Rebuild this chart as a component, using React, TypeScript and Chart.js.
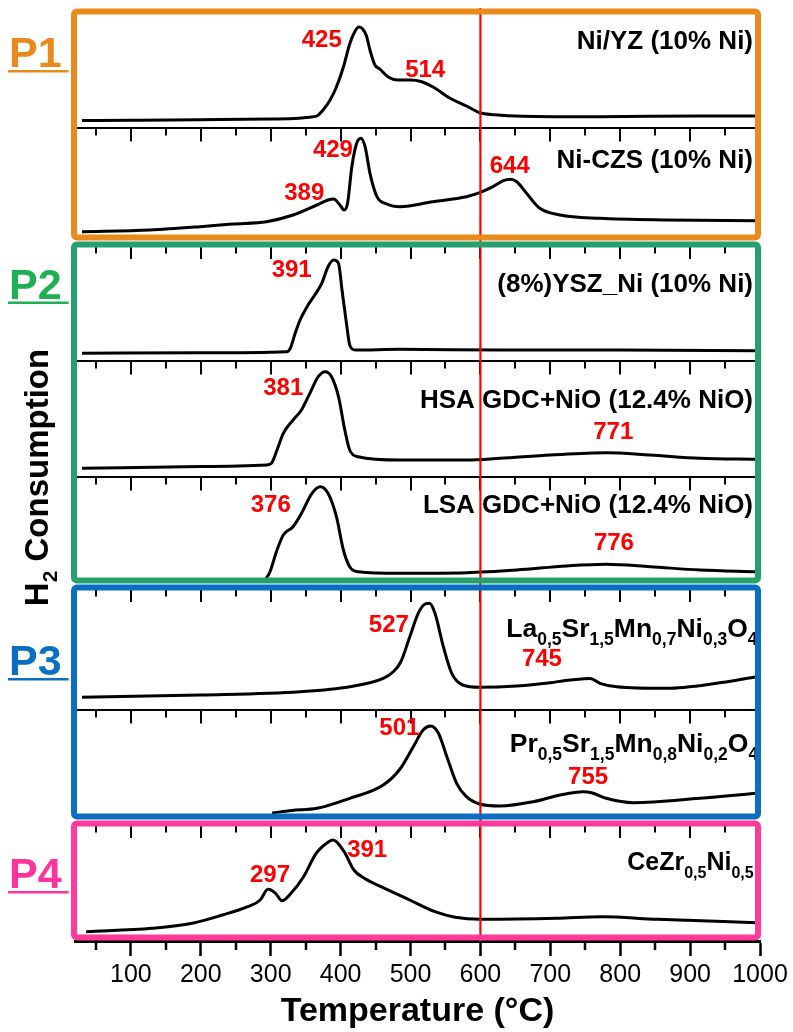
import React, { useEffect, useRef } from 'react';
import { Chart, registerables } from 'chart.js';

Chart.register(...registerables);

type Pt = [number, number];
type Part = [string, boolean];

const FONT = "'Liberation Sans', Arial, Helvetica, sans-serif";

// ---------- axis ----------
const X_MIN = 20;
const X_MAX = 1000;
const X_TICKS = [100, 200, 300, 400, 500, 600, 700, 800, 900, 1000];
const X_MINOR_TICKS = [50, 150, 250, 350, 450, 550, 650, 750, 850, 950];
const REF_TEMPERATURE = 600;

// ---------- series: [temperature °C, H2 signal (a.u.)] ----------
const NI_YZ: Pt[] = [
  [30, 7.5], [100, 7.8], [200, 8.3], [300, 9], [340, 9.8], [355, 10.8], [366, 12], [376, 19],
  [385, 28], [394, 41], [404, 61], [413, 84], [420, 96], [426, 101], [431, 99.5], [437, 92],
  [442, 78], [449, 63], [456, 59], [468, 51], [482, 48], [500, 48], [515, 46.5], [533, 40.7],
  [556, 30], [580, 22], [599, 15.3], [620, 13.3], [660, 11.8], [771, 11.3], [914, 12], [995, 12],
];
const NI_CZS: Pt[] = [
  [30, 9.3], [127, 11], [199, 14.3], [246, 17], [294, 19.3], [332, 26], [366, 36], [382, 41],
  [390, 42], [399, 36], [405, 31], [410, 38], [416, 74], [423, 97.7], [429, 102.7], [435, 94.3],
  [442, 67.7], [452, 44.3], [466, 37], [485, 34.3], [532, 39.3], [580, 44.3], [599, 48.3],
  [618, 54.3], [633, 60.3], [643, 61.7], [652, 59.3], [666, 47.7], [685, 32.7], [714, 26],
  [771, 22.7], [866, 21], [995, 20.3],
];
const YSZ_NI: Pt[] = [
  [30, 7.7], [200, 8.2], [323, 9.3], [328, 12.7], [335, 27.7], [342, 41], [352, 54.3], [363, 66],
  [373, 77.7], [382, 94.3], [390, 101], [397, 97.7], [402, 71], [409, 34.3], [413, 16], [421, 11],
  [485, 11.7], [628, 11], [800, 11], [995, 10.3],
];
const HSA_GDC: Pt[] = [
  [30, 8.7], [200, 10.5], [294, 12], [301, 13.7], [309, 27], [318, 43.7], [332, 57], [344, 67],
  [356, 83.7], [368, 100.3], [378, 105.3], [387, 100.3], [397, 80.3], [406, 47], [413, 27],
  [425, 20.3], [485, 17], [580, 17], [628, 18.7], [700, 22], [780, 24.3], [843, 22], [914, 18.7],
  [995, 17.7],
];
const LSA_GDC: Pt[] = [
  [293, 5], [299, 12.3], [309, 34], [318, 49], [332, 57.3], [344, 70.7], [359, 90.7], [371, 97.3],
  [382, 90.7], [394, 67.3], [404, 34], [413, 17.3], [425, 12.3], [485, 10.7], [580, 11.3],
  [652, 14], [723, 18], [780, 19.7], [843, 17.3], [914, 14], [995, 12.3],
];
const LSMN: Pt[] = [
  [30, 12.7], [199, 15], [342, 18.3], [413, 23.3], [461, 31.7], [475, 38], [486, 48], [499, 73.3],
  [511, 96.7], [521, 106], [527, 106.7], [535, 96.7], [547, 63.3], [559, 36.7], [575, 25],
  [599, 22.7], [652, 24], [700, 27.3], [722, 29.5], [745, 31], [757, 31.5], [771, 26.7],
  [795, 23.3], [866, 21.7], [938, 26.7], [995, 33.3],
];
const PSMN: Pt[] = [
  [302, 7], [330, 9.5], [366, 11.7], [413, 21.7], [461, 35], [485, 51], [504, 73.3], [518, 90],
  [529, 94], [540, 86.7], [552, 63.3], [566, 36.7], [580, 23.3], [599, 16], [628, 14], [676, 18.3],
  [714, 25], [747, 28.3], [759, 27.3], [780, 21.7], [819, 17.3], [914, 21.7], [995, 26.7],
];
const CEZR_NI: Pt[] = [
  [36, 9.3], [130, 12.7], [188, 17.7], [231, 26], [267, 34.3], [285, 41], [296, 51.7], [307, 47.7],
  [316, 40.3], [329, 47.7], [347, 64.3], [365, 87.7], [383, 99.3], [389, 101], [405, 89.3],
  [419, 71], [434, 62.7], [463, 52.7], [499, 41], [535, 29.3], [564, 23.7], [600, 21.7],
  [709, 22.7], [774, 24.3], [853, 21.7], [995, 18.3],
];

const SERIES: Pt[][] = [NI_YZ, NI_CZS, YSZ_NI, HSA_GDC, LSA_GDC, LSMN, PSMN, CEZR_NI];

// full-scale (a.u.) of each stacked panel, top to bottom
const PANEL_RANGES = [120, 113, 120, 116, 107, 126, 110, 121];
// which group box each panel belongs to
const PANEL_GROUPS = [0, 0, 1, 1, 1, 2, 2, 3];
const GROUP_NAMES = ['P1', 'P2', 'P3', 'P4'];
const GROUP_BORDER_COLORS = ['#EB8A1C', '#25A06E', '#0A6FC2', '#FF3A9A'];
const GROUP_TEXT_COLORS = ['#EB8A1C', '#1FB055', '#0A6FC2', '#FF3399'];
const GROUP_LABEL_POS = [
  { panel: 0, v: 61 },
  { panel: 2, v: 62.5 },
  { panel: 5, v: 35 },
  { panel: 7, v: 53 },
];

const SAMPLE_LABELS: { panel: number; parts: Part[]; t: number; v: number; align: 'left' | 'right'; size: number; sub: number }[] = [
  { panel: 0, parts: [['Ni/YZ (10% Ni)', false]], t: 990, v: 78.7, align: 'right', size: 26, sub: 17 },
  { panel: 1, parts: [['Ni-CZS (10% Ni)', false]], t: 990, v: 72.7, align: 'right', size: 26, sub: 17 },
  { panel: 2, parts: [['(8%)YSZ_Ni (10% Ni)', false]], t: 990, v: 69.3, align: 'right', size: 26, sub: 17 },
  { panel: 3, parts: [['HSA GDC+NiO (12.4% NiO)', false]], t: 990, v: 68.7, align: 'right', size: 26, sub: 17 },
  { panel: 4, parts: [['LSA GDC+NiO (12.4% NiO)', false]], t: 990, v: 70.7, align: 'right', size: 26, sub: 17 },
  {
    panel: 5,
    parts: [['La', false], ['0,5', true], ['Sr', false], ['1,5', true], ['Mn', false], ['0,7', true], ['Ni', false], ['0,3', true], ['O', false], ['4', true]],
    t: 637, v: 73.3, align: 'left', size: 26.5, sub: 17.5,
  },
  {
    panel: 6,
    parts: [['Pr', false], ['0,5', true], ['Sr', false], ['1,5', true], ['Mn', false], ['0,8', true], ['Ni', false], ['0,2', true], ['O', false], ['4', true]],
    t: 642, v: 68, align: 'left', size: 26.5, sub: 17.5,
  },
  {
    panel: 7,
    parts: [['CeZr', false], ['0,5', true], ['Ni', false], ['0,5', true]],
    t: 991, v: 71, align: 'right', size: 25, sub: 16,
  },
];

const PEAK_LABELS: { panel: number; text: string; t: number; v: number }[] = [
  { panel: 0, text: '425', t: 373, v: 88 },
  { panel: 0, text: '514', t: 521, v: 58 },
  { panel: 1, text: '429', t: 389, v: 91 },
  { panel: 1, text: '389', t: 348, v: 48 },
  { panel: 1, text: '644', t: 642, v: 75 },
  { panel: 2, text: '391', t: 330, v: 91 },
  { panel: 3, text: '381', t: 318, v: 89 },
  { panel: 3, text: '771', t: 790, v: 45 },
  { panel: 4, text: '376', t: 300, v: 79 },
  { panel: 4, text: '776', t: 791, v: 41 },
  { panel: 5, text: '527', t: 469, v: 85 },
  { panel: 5, text: '745', t: 688, v: 51 },
  { panel: 6, text: '501', t: 484, v: 92 },
  { panel: 6, text: '755', t: 754, v: 43 },
  { panel: 7, text: '297', t: 299, v: 66 },
  { panel: 7, text: '391', t: 438, v: 91 },
];

const Y_TITLE: Part[] = [['H', false], ['2', true], [' Consumption', false]];

function drawRich(ctx: CanvasRenderingContext2D, parts: Part[], x: number, y: number, align: string, size: number, sub: number, subDy: number) {
  const mainFont = `bold ${size}px ${FONT}`;
  const subFont = `bold ${sub}px ${FONT}`;
  let total = 0;
  const widths = parts.map(([t, s]) => {
    ctx.font = s ? subFont : mainFont;
    const w = ctx.measureText(t).width;
    total += w;
    return w;
  });
  let cx = align === 'right' ? x - total : align === 'center' ? x - total / 2 : x;
  ctx.textAlign = 'left';
  ctx.textBaseline = 'alphabetic';
  parts.forEach(([t, s], i) => {
    ctx.font = s ? subFont : mainFont;
    ctx.fillText(t, cx, s ? y + subDy : y);
    cx += widths[i];
  });
}

const BOX_INSET = 3.5;

function groupBox(chart: any, g: number) {
  const area = chart.chartArea;
  const idx = PANEL_GROUPS.map((gg, i) => (gg === g ? i : -1)).filter((i) => i >= 0);
  const topAxis = chart.scales[`y${idx[0]}`];
  const botAxis = chart.scales[`y${idx[idx.length - 1]}`];
  return {
    left: area.left - 1,
    right: area.right - 2,
    top: topAxis.top + BOX_INSET,
    bottom: botAxis.bottom - BOX_INSET,
  };
}

const decorPlugin = {
  id: 'tprDecor',
  afterDatasetsDraw(chart: any) {
    const ctx: CanvasRenderingContext2D = chart.ctx;
    const area = chart.chartArea;
    const xs = chart.scales.x;

    // sample names (clipped to plot area)
    ctx.save();
    ctx.beginPath();
    ctx.rect(area.left, area.top, area.right - 5 - area.left, area.bottom - area.top);
    ctx.clip();
    ctx.fillStyle = '#000';
    SAMPLE_LABELS.forEach((l) => {
      const ys = chart.scales[`y${l.panel}`];
      drawRich(ctx, l.parts, xs.getPixelForValue(l.t), ys.getPixelForValue(l.v), l.align, l.size, l.sub, 8);
    });
    ctx.restore();

    // panel separators with inward ticks
    ctx.save();
    ctx.strokeStyle = '#000';
    const majors = X_TICKS.filter((v) => v < X_MAX);
    for (let i = 1; i < PANEL_RANGES.length; i++) {
      const ys = chart.scales[`y${i}`];
      const boxTop = PANEL_GROUPS[i] !== PANEL_GROUPS[i - 1];
      const y0 = boxTop ? ys.top + BOX_INSET : ys.top;
      const minorLen = boxTop ? 9 : 7.5;
      const majorLen = boxTop ? 14.5 : 13.5;
      if (!boxTop) {
        ctx.lineWidth = 2;
        ctx.beginPath();
        ctx.moveTo(area.left, y0);
        ctx.lineTo(area.right, y0);
        ctx.stroke();
      }
      ctx.lineWidth = 2;
      ctx.beginPath();
      majors.forEach((v) => {
        const px = Math.round(xs.getPixelForValue(v));
        ctx.moveTo(px, y0);
        ctx.lineTo(px, y0 + majorLen);
      });
      X_MINOR_TICKS.forEach((v) => {
        const px = Math.round(xs.getPixelForValue(v));
        ctx.moveTo(px, y0);
        ctx.lineTo(px, y0 + minorLen);
      });
      ctx.stroke();
    }
    ctx.restore();

    // reference line
    ctx.save();
    const rx = xs.getPixelForValue(REF_TEMPERATURE);
    ctx.strokeStyle = '#FF0000';
    ctx.lineWidth = 2.2;
    ctx.beginPath();
    ctx.moveTo(rx, area.top);
    ctx.lineTo(rx, area.bottom);
    ctx.stroke();
    ctx.restore();

    // group boxes
    ctx.save();
    GROUP_NAMES.forEach((_, g) => {
      const b = groupBox(chart, g);
      ctx.strokeStyle = GROUP_BORDER_COLORS[g];
      ctx.lineWidth = 6;
      ctx.beginPath();
      (ctx as any).roundRect(b.left, b.top, b.right - b.left, b.bottom - b.top, 3);
      ctx.stroke();
    });
    ctx.restore();
  },
  afterDraw(chart: any) {
    const ctx: CanvasRenderingContext2D = chart.ctx;
    const area = chart.chartArea;
    const xs = chart.scales.x;

    // bottom-axis minor ticks
    ctx.save();
    ctx.strokeStyle = '#000';
    ctx.lineWidth = 2.5;
    ctx.beginPath();
    X_MINOR_TICKS.forEach((v) => {
      const px = Math.round(xs.getPixelForValue(v));
      ctx.moveTo(px, area.bottom);
      ctx.lineTo(px, area.bottom + 9);
    });
    ctx.stroke();
    ctx.restore();

    // peak labels
    ctx.save();
    ctx.fillStyle = '#FF0000';
    ctx.font = `bold 24px ${FONT}`;
    ctx.textAlign = 'center';
    ctx.textBaseline = 'middle';
    PEAK_LABELS.forEach((l) => {
      const ys = chart.scales[`y${l.panel}`];
      ctx.fillText(l.text, xs.getPixelForValue(l.t), ys.getPixelForValue(l.v));
    });
    ctx.restore();

    // group names P1..P4 (underlined)
    ctx.save();
    ctx.font = `bold 43px ${FONT}`;
    ctx.textAlign = 'left';
    ctx.textBaseline = 'alphabetic';
    GROUP_NAMES.forEach((name, g) => {
      const pos = GROUP_LABEL_POS[g];
      const ys = chart.scales[`y${pos.panel}`];
      const y = ys.getPixelForValue(pos.v);
      const x = area.left - 66;
      ctx.fillStyle = GROUP_TEXT_COLORS[g];
      ctx.fillText(name, x, y);
      const w = ctx.measureText(name).width;
      ctx.fillRect(x - 1, y + 3, w + 8, 2.5);
    });
    ctx.restore();

    // y-axis title
    ctx.save();
    ctx.fillStyle = '#000';
    ctx.translate(area.left - 27, (area.top + area.bottom) / 2 + 3);
    ctx.rotate(-Math.PI / 2);
    drawRich(ctx, Y_TITLE, 0, 0, 'center', 33, 21, 9);
    ctx.restore();
  },
};

export default function App() {
  const ref = useRef<HTMLCanvasElement | null>(null);

  useEffect(() => {
    if (!ref.current) return;
    const datasets = SERIES.map((s, i) => ({
      label: `panel${i}`,
      data: s.map(([x, y]) => ({ x, y })),
      yAxisID: `y${i}`,
      xAxisID: 'x',
      borderColor: '#000',
      borderWidth: 3,
      pointRadius: 0,
      fill: false,
      cubicInterpolationMode: 'monotone' as const,
    }));

    const scales: any = {
      x: {
        type: 'linear',
        position: 'bottom',
        min: X_MIN,
        max: X_MAX,
        afterBuildTicks: (s: any) => {
          s.ticks = X_TICKS.map((v) => ({ value: v }));
        },
        afterFit: (s: any) => {
          s.height = 91;
        },
        ticks: {
          autoSkip: false,
          maxRotation: 0,
          minRotation: 0,
          padding: 4.5,
          color: '#000',
          font: { family: FONT, size: 25 },
          callback: (v: any) => String(v),
        },
        grid: {
          display: true,
          drawOnChartArea: false,
          drawTicks: true,
          tickLength: 15,
          tickWidth: 2.5,
          tickColor: '#000',
        },
        border: { display: true, width: 3, color: '#000' },
        title: {
          display: true,
          text: 'Temperature (°C)',
          color: '#000',
          font: { family: FONT, size: 34, weight: 'bold' },
          padding: { top: 0, bottom: 0 },
        },
      },
    };
    PANEL_RANGES.forEach((r, i) => {
      scales[`y${i}`] = {
        type: 'linear',
        position: 'left',
        stack: 'tpr',
        stackWeight: r,
        weight: 100 - i,
        min: 0,
        max: r,
        display: false,
      };
    });

    const chart = new Chart(ref.current, {
      type: 'line',
      data: { datasets },
      options: {
        responsive: false,
        maintainAspectRatio: false,
        animation: false,
        devicePixelRatio: 1,
        events: [],
        layout: { padding: { left: 75, right: 33, top: 8, bottom: 0 } },
        plugins: { legend: { display: false }, tooltip: { enabled: false }, title: { display: false } },
        scales,
      },
      plugins: [decorPlugin],
    } as any);

    return () => chart.destroy();
  }, []);

  return (
    <div style={{ position: 'fixed', left: 0, top: 0, width: 793, height: 1032, background: '#fff' }}>
      <canvas ref={ref} width={793} height={1032} style={{ display: 'block', width: 793, height: 1032 }} />
    </div>
  );
}
